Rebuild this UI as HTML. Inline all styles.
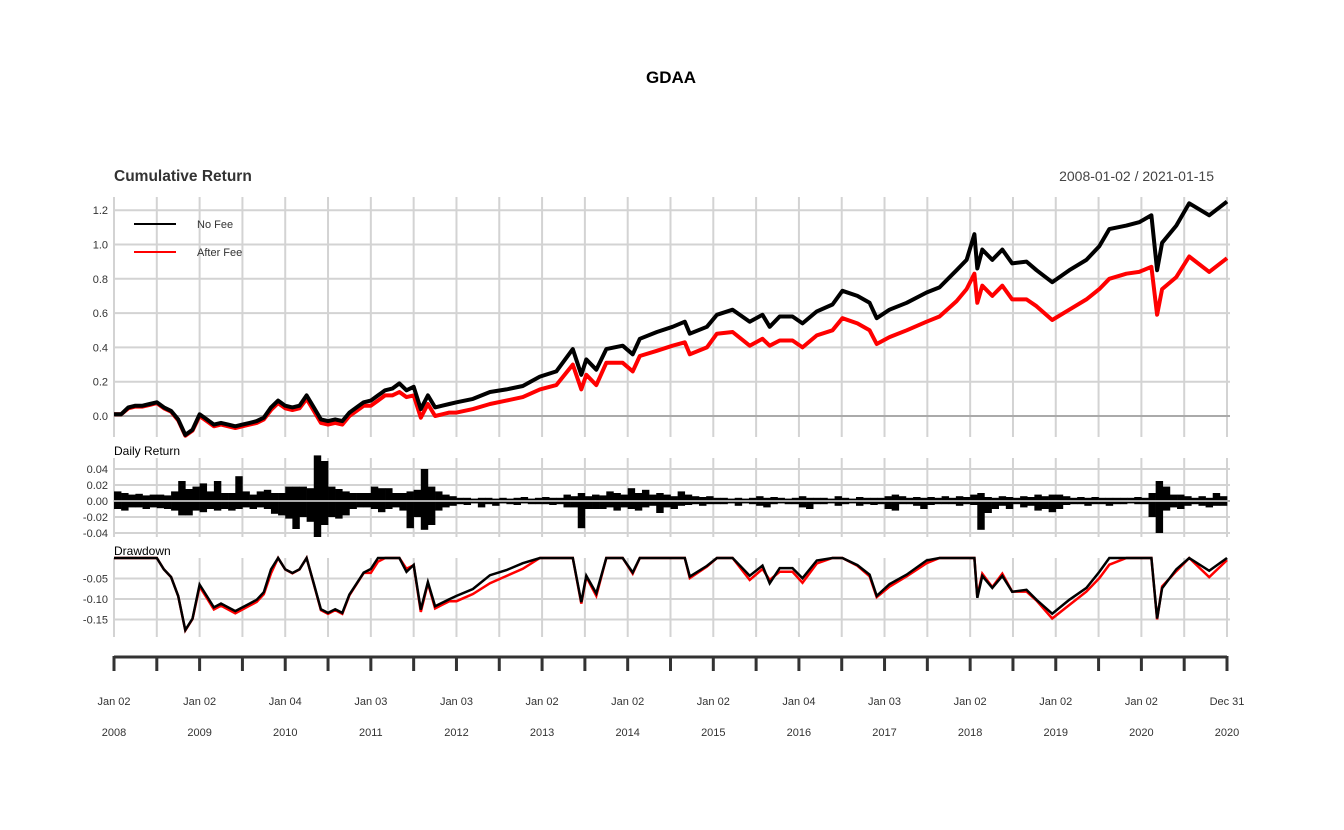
<!DOCTYPE html>
<html><head><meta charset="utf-8"><style>
html,body{margin:0;padding:0;background:#fff;}
svg{display:block;font-family:"Liberation Sans",sans-serif;}
</style></head><body>
<svg id="chart" width="1344" height="830" viewBox="0 0 1344 830" xmlns="http://www.w3.org/2000/svg">
<text x="671" y="83" text-anchor="middle" font-size="17" font-weight="bold" fill="#000">GDAA</text>
<text x="114" y="181" font-size="15.5" font-weight="bold" fill="#333">Cumulative Return</text>
<text x="1214" y="181" text-anchor="end" font-size="14" fill="#444">2008-01-02 / 2021-01-15</text>
<text x="114" y="455" font-size="12" fill="#000">Daily Return</text>
<text x="114" y="555" font-size="12" fill="#000">Drawdown</text>
<g id="grid"></g><g id="marks"></g><g id="axes"></g>
<g>
<line x1="134" y1="224" x2="176" y2="224" stroke="#000" stroke-width="2"/>
<text x="197" y="228" font-size="11" fill="#333">No Fee</text>
<line x1="134" y1="252" x2="176" y2="252" stroke="#f00" stroke-width="2"/>
<text x="197" y="256" font-size="11" fill="#333">After Fee</text>
</g>
</svg>
<script>
// months since Jan 2008
const months = [0,1,2,3,4,5,6,7,8,9,10,11,12,13,14,15,16,17,18,19,20,21,22,23,24,25,26,27,28,29,30,31,32,33,34,35,36,37,38,39,40,41,42,43,44,45,46,47,
48,50.3,52.7,55,57.3,59.7,62,64.3,65.5,66.2,67.6,69,71.3,72.7,73.7,76.1,78.3,80,80.7,83.1,84.5,86.7,89.1,90.9,91.9,93.3,95.1,96.5,98.5,100.7,102.1,104.2,105.9,106.9,108.7,111.1,113.9,115.7,118.1,119.5,120.6,121,121.7,123.1,124.5,125.9,127.9,129.3,131.5,133.9,136.3,138.1,139.5,141.9,143.7,145.4,146.2,146.9,148.9,150.7,153.5,156];
const noFee = [0.01,0.01,0.05,0.06,0.06,0.07,0.08,0.05,0.03,-0.02,-0.11,-0.08, 0.01,-0.02,-0.05,-0.04,-0.05,-0.06,-0.05,-0.04,-0.03,-0.01,0.05,0.09, 0.06,0.05,0.06,0.12,0.05,-0.02,-0.03,-0.02,-0.03,0.02,0.05,0.08, 0.09,0.12,0.15,0.16,0.19,0.15,0.17,0.04,0.12,0.05,0.06,0.07,
0.08,0.10,0.14,0.155,0.175,0.23,0.26,0.39,0.24,0.33,0.27,0.39,0.41,0.36,0.45,0.49,0.52,0.55,0.48,0.52,0.59,0.62,0.55,0.59,0.52,0.58,0.58,0.54,0.61,0.65,0.73,0.70,0.66,0.57,0.62,0.66,0.72,0.75,0.85,0.91,1.06,0.86,0.97,0.91,0.97,0.89,0.90,0.85,0.78,0.85,0.91,0.99,1.09,1.11,1.13,1.17,0.85,1.01,1.11,1.24,1.17,1.25];
const afterFee = [0.01,0.01,0.045,0.055,0.055,0.065,0.075,0.045,0.025,-0.025,-0.115,-0.085, 0.0,-0.03,-0.06,-0.05,-0.06,-0.07,-0.06,-0.05,-0.04,-0.02,0.035,0.075, 0.045,0.035,0.045,0.10,0.03,-0.04,-0.05,-0.04,-0.05,0.0,0.03,0.06, 0.06,0.09,0.12,0.12,0.14,0.11,0.12,-0.01,0.07,0.0,0.01,0.02,
0.02,0.04,0.07,0.09,0.11,0.155,0.18,0.30,0.155,0.24,0.18,0.31,0.31,0.26,0.35,0.38,0.41,0.43,0.36,0.40,0.48,0.49,0.41,0.45,0.41,0.44,0.44,0.40,0.47,0.50,0.57,0.54,0.50,0.42,0.46,0.50,0.55,0.58,0.67,0.74,0.83,0.66,0.76,0.70,0.76,0.68,0.68,0.64,0.56,0.62,0.68,0.74,0.80,0.83,0.84,0.87,0.59,0.74,0.81,0.93,0.84,0.92];
// monthly max / min daily return
const retUp = [0.012,0.010,0.008,0.009,0.007,0.008,0.008,0.007,0.012,0.025,0.015,0.018,
0.022,0.012,0.025,0.010,0.010,0.031,0.012,0.008,0.012,0.014,0.010,0.010,
0.018,0.018,0.018,0.016,0.057,0.050,0.018,0.015,0.012,0.010,0.010,0.010,
0.018,0.016,0.016,0.010,0.010,0.012,0.014,0.040,0.018,0.012,0.008,0.006,
0.004,0.004,0.003,0.004,0.004,0.003,0.004,0.003,0.004,0.005,0.003,0.004,
0.005,0.004,0.004,0.008,0.006,0.010,0.006,0.008,0.007,0.012,0.010,0.008,
0.016,0.010,0.014,0.008,0.010,0.008,0.006,0.012,0.008,0.006,0.005,0.006,
0.004,0.004,0.003,0.004,0.003,0.004,0.006,0.004,0.005,0.004,0.003,0.004,
0.006,0.004,0.004,0.004,0.003,0.006,0.004,0.003,0.005,0.004,0.004,0.004,
0.006,0.008,0.006,0.004,0.005,0.004,0.005,0.004,0.006,0.004,0.006,0.005,
0.008,0.010,0.005,0.004,0.006,0.005,0.004,0.006,0.005,0.008,0.006,0.008,
0.008,0.006,0.004,0.005,0.004,0.005,0.004,0.004,0.004,0.004,0.004,0.005,
0.004,0.010,0.025,0.018,0.008,0.008,0.006,0.004,0.006,0.004,0.010,0.006];
const retDn = [-0.010,-0.012,-0.008,-0.008,-0.010,-0.008,-0.009,-0.010,-0.012,-0.018,-0.018,-0.012,
-0.014,-0.010,-0.012,-0.010,-0.012,-0.010,-0.008,-0.010,-0.008,-0.010,-0.016,-0.018,
-0.022,-0.035,-0.020,-0.026,-0.045,-0.030,-0.020,-0.022,-0.018,-0.010,-0.008,-0.008,
-0.010,-0.014,-0.010,-0.008,-0.012,-0.034,-0.020,-0.036,-0.030,-0.012,-0.008,-0.006,
-0.004,-0.005,-0.003,-0.008,-0.004,-0.006,-0.003,-0.004,-0.005,-0.003,-0.004,-0.004,
-0.004,-0.005,-0.004,-0.008,-0.008,-0.034,-0.010,-0.010,-0.010,-0.008,-0.012,-0.008,
-0.010,-0.012,-0.008,-0.006,-0.015,-0.008,-0.010,-0.006,-0.005,-0.004,-0.006,-0.004,
-0.004,-0.004,-0.003,-0.006,-0.003,-0.004,-0.006,-0.008,-0.004,-0.003,-0.004,-0.004,
-0.008,-0.010,-0.004,-0.004,-0.003,-0.006,-0.004,-0.003,-0.006,-0.004,-0.005,-0.004,
-0.010,-0.012,-0.004,-0.004,-0.006,-0.010,-0.005,-0.004,-0.004,-0.004,-0.006,-0.004,
-0.005,-0.036,-0.015,-0.010,-0.006,-0.010,-0.004,-0.008,-0.006,-0.012,-0.010,-0.014,
-0.010,-0.005,-0.004,-0.004,-0.006,-0.004,-0.004,-0.006,-0.004,-0.004,-0.003,-0.004,
-0.004,-0.020,-0.040,-0.012,-0.008,-0.010,-0.006,-0.004,-0.006,-0.008,-0.006,-0.006];
const yTicksMain = [0,0.2,0.4,0.6,0.8,1.0,1.2];
const yTicksDaily = [0.04,0.02,0,-0.02,-0.04];
const yTicksDD = [-0.05,-0.10,-0.15];
const yearLabels = ["2008","2009","2010","2011","2012","2013","2014","2015","2016","2017","2018","2019","2020","2020"];
const dayLabels = ["Jan 02","Jan 02","Jan 04","Jan 03","Jan 03","Jan 02","Jan 02","Jan 02","Jan 04","Jan 03","Jan 02","Jan 02","Jan 02","Dec 31"];

const NS="http://www.w3.org/2000/svg";
const X0=114, X1=1227, MTOT=156;
const x = m => X0 + m*(X1-X0)/MTOT;
const yMain = v => 416 - v*171.5;
const yDaily = v => 501 - v*800;
const yDD = v => 558 - v*410;
function mk(tag, parent, attrs){const e=document.createElementNS(NS,tag);for(const k in attrs)e.setAttribute(k,attrs[k]);parent.appendChild(e);return e;}
const grid=document.getElementById('grid'), marks=document.getElementById('marks'), axes=document.getElementById('axes');
const panels=[[197,437],[458,537],[558,637]];
for(let i=0;i<=26;i++){const gx=x(i*6);
  for(const p of panels){const l=mk('line',grid,{x1:gx,x2:gx,y1:p[0],y2:p[1],stroke:'#d3d3d3','stroke-width':2});
    
    }}
function hticks(ticks, yf, name, fmt){
  ticks.forEach(t=>{const yy=yf(t);
    const l=mk('line',grid,{x1:X0,x2:1230,y1:yy,y2:yy,stroke:t===0?'#aaa':'#d3d3d3','stroke-width':2});
    
    
    const tx=mk('text',axes,{x:108,y:yy+4,'text-anchor':'end','font-size':11,fill:'#333'});
    
    
    tx.textContent=fmt(t);});
}
hticks(yTicksMain,yMain,'y-axis-cumulative',t=>t.toFixed(1));
hticks(yTicksDaily,yDaily,'y-axis-daily',t=>t.toFixed(2));
hticks(yTicksDD,yDD,'y-axis-drawdown',t=>t.toFixed(2));
function path(vals,yf){return vals.map((v,i)=>(i?'L':'M')+x(months[i]).toFixed(1)+','+yf(v).toFixed(1)).join('');}
const pr=mk('path',marks,{d:path(afterFee,yMain),fill:'none',stroke:'#f00','stroke-width':4,'stroke-linejoin':'round'});


const pb=mk('path',marks,{d:path(noFee,yMain),fill:'none',stroke:'#000','stroke-width':4,'stroke-linejoin':'round'});


const bw=(X1-X0)/MTOT;
retUp.forEach((v,i)=>{const r=mk('rect',marks,{x:x(i),width:bw+0.3,y:yDaily(v),height:yDaily(0)-yDaily(v),fill:'#000'});
  
  });
retDn.forEach((v,i)=>{const r=mk('rect',marks,{x:x(i),width:bw+0.3,y:yDaily(0),height:yDaily(v)-yDaily(0),fill:'#000'});
  
  });
const zl=mk('line',marks,{x1:X0,x2:1230,y1:yDaily(0),y2:yDaily(0),stroke:'#aaa','stroke-width':2});


function dd(vals){let pk=-1e9;return vals.map(v=>{pk=Math.max(pk,1+v);return (1+v)/pk-1;});}
const dr=mk('path',marks,{d:path(dd(afterFee),yDD),fill:'none',stroke:'#f00','stroke-width':2.5});


const db=mk('path',marks,{d:path(dd(noFee),yDD),fill:'none',stroke:'#000','stroke-width':2.5});


const ax=mk('line',axes,{x1:X0,x2:X1,y1:657,y2:657,stroke:'#333','stroke-width':3});


for(let i=0;i<=26;i++){const t=mk('line',axes,{x1:x(i*6),x2:x(i*6),y1:656,y2:671,stroke:'#333','stroke-width':3});
  
  }
dayLabels.forEach((d,i)=>{const gx=i<13?x(i*12):X1;
  const a=mk('text',axes,{x:gx,y:705,'text-anchor':'middle','font-size':11,fill:'#333'});
  
  
  a.textContent=d;
  const b=mk('text',axes,{x:gx,y:736,'text-anchor':'middle','font-size':11,fill:'#333'});
  
  
  b.textContent=yearLabels[i];});
</script>
</body></html>
